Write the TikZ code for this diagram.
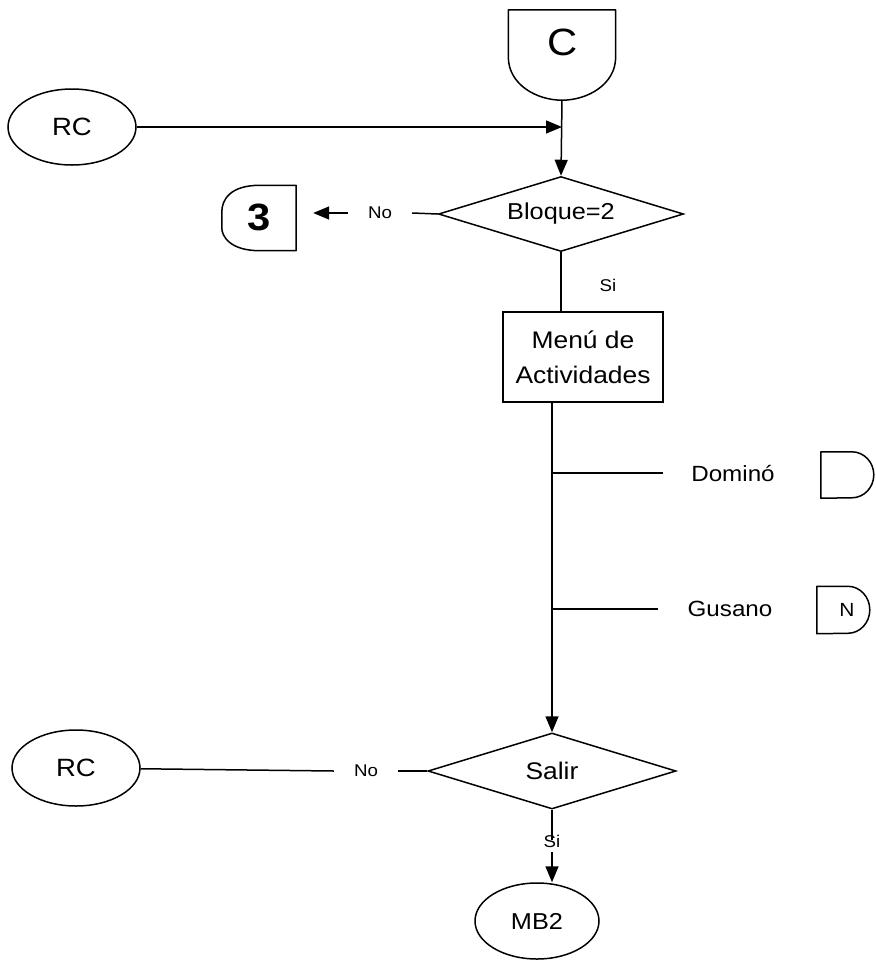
\documentclass[tikz,border=0pt]{standalone}
\usepackage{fontspec}
\setmainfont[FakeStretch=1.1]{Liberation Sans}
\usetikzlibrary{shapes.geometric,arrows.meta}
\newcommand\fsz[2][]{\fontsize{#2}{#2}\selectfont}
\begin{document}
\begin{tikzpicture}[x=1pt,y=-1pt,
  conn/.style={line width=1.5pt},
  arr/.style={conn,-{Triangle[length=16pt,width=13pt]}},
  term/.style={ellipse,draw,line width=1.5pt,minimum width=128pt,minimum height=76pt,inner sep=0pt,font=\fsz{25}},
  decision/.style={diamond,draw,line width=1.5pt,inner sep=0pt,aspect=3.3},
  process/.style={rectangle,draw,line width=1.5pt,minimum width=160pt,minimum height=90pt,align=center,font={\fontsize{24}{35}\selectfont}},
  lbl/.style={inner xsep=20pt,inner ysep=6pt,font=\fsz{17}},
  side/.style={inner sep=0pt,font=\fsz{22}},
  outline/.style={line width=1.5pt,line join=round}
]
\useasboundingbox (0,0) rectangle (876,962);
\fill[white] (0,0) rectangle (876,962);

% off-page connector C
\node[minimum width=107pt,minimum height=90pt,inner sep=0pt] (C) at (562,55) {};
\draw[outline] (C.north west) -- (C.north east) -- ([yshift=-47pt]C.north east)
  .. controls ([yshift=-75pt]C.north east) and ([xshift=25pt]C.south) .. (C.south)
  .. controls ([xshift=-25pt]C.south) and ([yshift=-75pt]C.north west) .. ([yshift=-47pt]C.north west) -- cycle;
\node[inner sep=0pt,font=\fsz{38}] (Ct) at (563,42) {C};

% RC top
\node[term] (rc1) at (72,127) {RC};
\coordinate (j1) at (C.south |- rc1.east);
\draw[arr] (rc1.east) -- (j1);

% decision 1
\node[decision,minimum width=245pt,minimum height=75pt,font=\fsz{23}] (d1) at (561,214) {Bloque=2};
\draw[arr] (C.south) -- (d1.north);

% connector 3
\node[minimum width=74pt,minimum height=65pt,inner sep=0pt] (c3) at (259,218) {};
\draw[outline] (c3.north east) -- (c3.south east) -- ([xshift=38pt]c3.south west)
  .. controls ([xshift=8pt]c3.south west) and ([yshift=-18pt]c3.west) .. ([yshift=-10pt]c3.west)
  -- ([yshift=6pt]c3.west)
  .. controls ([yshift=18pt]c3.west) and ([xshift=8pt]c3.north west) .. ([xshift=38pt]c3.north west) -- cycle;
\node[inner sep=0pt,font=\bfseries\fsz{38}] (c3t) at (259,217) {3};

\node[lbl] (no1) at (380,213) {No};
\draw[conn] (d1.west) -- (no1.east);
\draw[arr] (no1.west) -- ([xshift=17pt]no1.west -| c3.east);

% process
\node[process] (menu) at (583,357) {Menú de\\Actividades};
\node[inner sep=0pt,font=\fsz{17}] (si1) at (608,285) {Si};
\draw[conn] (d1.south) -- (d1.south |- menu.north);

% decision 2
\node[decision,minimum width=248pt,minimum height=76pt,font=\fsz{24}] (d2) at (552,771) {Salir};
\draw[arr] (d2.north |- menu.south) -- (d2.north);

% branches
\node[side] (dom) at (733,473) {Dominó};
\node[side] (gus) at (730,609) {Gusano};
\draw[conn] (dom.west -| d2.north) -- ([xshift=-28pt]dom.west);
\draw[conn] (gus.west -| d2.north) -- ([xshift=-29pt]gus.west);

% connector Domino
\node[minimum width=54pt,minimum height=46pt,inner sep=0pt] (cd) at (848,475) {};
\draw[outline] (cd.south west) -- (cd.north west) -- ([xshift=31pt]cd.north west)
  arc[start angle=90,end angle=-90,x radius=22pt,y radius=23pt]
  -- cycle;

% connector N
\node[minimum width=54pt,minimum height=47pt,inner sep=0pt] (cn) at (844,610) {};
\draw[outline] (cn.south west) -- (cn.north west) -- ([xshift=31pt]cn.north west)
  arc[start angle=90,end angle=-90,x radius=22pt,y radius=23.5pt]
  -- cycle;
\node[inner sep=0pt,font=\fsz{19}] (nt) at (847,610) {N};

% RC bottom
\node[term] (rc2) at (76,768) {RC};
\node[lbl] (no2) at (366,771) {No};
\draw[conn] (d2.west) -- (no2.east);
\draw[conn] (no2.west) -- (rc2);

% MB2
\node[term,minimum width=124pt,font=\fsz{23}] (mb2) at (537,921) {MB2};
\node[inner xsep=0pt,inner ysep=5pt,font=\fsz{17}] (si2) at (d2.south |- 0,841) {Si};
\draw[conn] (d2.south) -- ([yshift=-10pt]si2.north);
\draw[arr] (si2.south) -- (si2.south |- mb2.north);
\end{tikzpicture}
\end{document}
